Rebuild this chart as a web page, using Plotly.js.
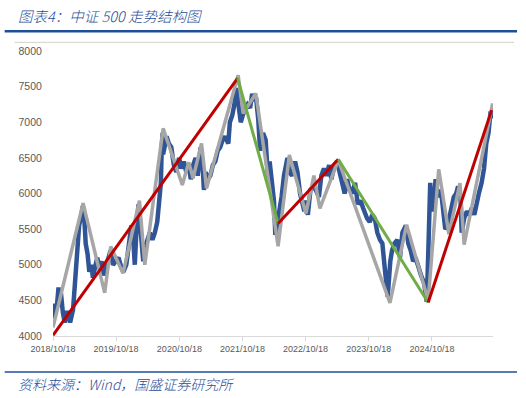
<!DOCTYPE html>
<html>
<head>
<meta charset="utf-8">
<script src="https://cdn.plot.ly/plotly-3.0.1.min.js"></script>
<style>
html,body{margin:0;padding:0;background:#fff;}
#chart{width:526px;height:398px;}
</style>
</head>
<body>
<div id="chart"></div>
<script>
// ---- Data ----
const blueDates = [
'2018-10-18','2018-10-25','2018-11-01','2018-11-09','2018-11-19','2018-11-26','2018-12-03','2018-12-14','2018-12-25',
'2019-01-08','2019-01-25','2019-02-11','2019-02-25','2019-03-08','2019-03-18','2019-04-01','2019-04-08','2019-04-16',
'2019-04-25','2019-05-06','2019-05-16','2019-05-27','2019-06-06','2019-06-17','2019-07-01','2019-07-15','2019-07-26',
'2019-08-06','2019-08-16','2019-09-02','2019-09-16','2019-09-30','2019-10-16','2019-11-01','2019-11-15','2019-11-29',
'2019-12-16','2020-01-02','2020-01-14','2020-01-23','2020-02-03','2020-02-14','2020-02-25','2020-03-09','2020-03-23',
'2020-04-03','2020-04-16','2020-04-30','2020-05-15','2020-05-29','2020-06-12','2020-06-24','2020-07-03','2020-07-08',
'2020-07-13','2020-07-16','2020-07-24','2020-08-05','2020-08-18','2020-09-01','2020-09-16','2020-09-30','2020-10-16',
'2020-10-30','2020-11-13','2020-11-27','2020-12-10','2020-12-23','2021-01-06','2021-01-20','2021-02-01','2021-02-10',
'2021-02-18','2021-03-01','2021-03-09','2021-03-19','2021-04-01','2021-04-15','2021-04-30','2021-05-14','2021-05-28',
'2021-06-11','2021-06-25','2021-07-09','2021-07-28','2021-08-06','2021-08-20','2021-09-01','2021-09-13','2021-09-22',
'2021-10-08','2021-10-20','2021-11-02','2021-11-16','2021-12-01','2021-12-13','2021-12-24','2022-01-04','2022-01-17',
'2022-01-28','2022-02-14','2022-03-01','2022-03-15','2022-03-24','2022-04-08','2022-04-18','2022-04-26','2022-05-09',
'2022-05-20','2022-06-01','2022-06-15','2022-07-05','2022-07-15','2022-08-01','2022-08-18','2022-09-01','2022-09-16',
'2022-09-30','2022-10-11','2022-10-21','2022-10-31','2022-11-15','2022-12-01','2022-12-16','2023-01-03','2023-01-17',
'2023-02-01','2023-02-16','2023-03-03','2023-03-16','2023-04-03','2023-04-18','2023-05-04','2023-05-16','2023-06-01',
'2023-06-15','2023-06-30','2023-07-14','2023-07-31','2023-08-16','2023-09-01','2023-09-15','2023-10-09','2023-10-24',
'2023-11-08','2023-11-22','2023-12-07','2023-12-22','2024-01-05','2024-01-19','2024-02-02','2024-02-05','2024-02-20',
'2024-03-01','2024-03-15','2024-04-01','2024-04-16','2024-04-30','2024-05-20','2024-06-03','2024-06-17','2024-07-01',
'2024-07-15','2024-08-01','2024-08-16','2024-09-02','2024-09-18','2024-09-27','2024-10-08','2024-10-17','2024-11-01',
'2024-11-08','2024-11-22','2024-12-09','2024-12-20','2025-01-03','2025-01-17','2025-02-06','2025-02-21','2025-03-07',
'2025-03-18','2025-04-01','2025-04-08','2025-04-22','2025-05-08','2025-05-22','2025-06-06','2025-06-20','2025-07-03',
'2025-07-16','2025-08-01','2025-08-15','2025-08-28','2025-09-10','2025-09-22','2025-09-30'
];
const blueValues = [
4250,4350,4450,4400,4680,4500,4600,4330,4190,
4350,4190,4370,4950,5350,5550,5700,5820,5700,
5300,5150,4900,5000,4820,4950,5100,4950,5050,
4850,4950,5100,5200,5000,5050,5100,4980,4900,
5000,5300,5550,5450,5000,5550,5850,5450,5050,
5250,5350,5450,5350,5450,5600,5850,6150,6650,
6850,6550,6650,6800,6700,6650,6400,6300,6500,
6350,6450,6300,6400,6200,6400,6500,6250,6500,
6650,6400,6050,6300,6200,6250,6400,6450,6600,
6650,6750,6800,6700,7000,7100,7250,7480,7300,
7000,7100,7200,7250,7200,7400,7300,7350,7050,
6600,6850,6750,6200,6450,6150,5900,5420,5600,
5700,5950,6250,6500,6300,6250,6450,6300,6000,
5850,5750,5900,5700,6050,6100,6050,5950,6250,
6350,6250,6400,6200,6400,6450,6300,6150,6000,
6200,6050,6000,6150,5850,5900,5800,5650,5600,
5700,5650,5450,5350,5300,4950,4650,4550,5050,
5200,5300,5350,5100,5450,5550,5300,5200,5050,
5100,4950,4850,4750,4480,5200,6150,5750,5950,
6200,5950,6050,5850,5500,5550,5750,5950,6000,
6100,5950,5450,5650,5750,5700,5800,5700,5900,
6000,6150,6350,6700,6850,7150,7050
];

const swingDates = [
'2018-10-18','2019-04-10','2019-08-13','2019-09-17','2019-11-27','2020-03-01','2020-04-01','2020-07-16',
'2020-11-04','2020-12-11','2021-01-05','2021-02-23','2021-03-24','2021-09-23','2021-10-22','2022-01-03',
'2022-05-12','2022-07-16','2022-10-20','2022-12-05','2023-01-09','2023-04-25','2024-02-18','2024-05-24',
'2024-09-26','2024-11-26','2025-01-24','2025-03-29','2025-04-22','2025-10-04'
];
const swingValues = [
4120,5865,4605,5257,4880,5900,5000,6914,
6120,6440,6214,6704,6074,7660,7124,7404,
5260,6540,5720,6250,5790,6470,4465,5560,
4500,6340,5430,6144,5281,7264
];

const trendDates = ['2018-10-18','2021-09-20','2022-05-12','2023-04-25','2024-09-26','2025-09-28'];
const trendValues = [4010,7620,5580,6480,4470,7170];

const xTickVals = ['2018-10-18','2019-10-18','2020-10-18','2021-10-18','2022-10-18','2023-10-18','2024-10-18'];
const xTickText = ['2018/10/18','2019/10/18','2020/10/18','2021/10/18','2022/10/18','2023/10/18','2024/10/18'];
const yTickVals = [4000,4500,5000,5500,6000,6500,7000,7500,8000];

// ---- Traces ----
const traces = [
  {x: blueDates, y: blueValues, type: 'scatter', mode: 'lines',
   line: {color: '#2F5597', width: 4.5}, hoverinfo: 'skip'},
  {x: swingDates, y: swingValues, type: 'scatter', mode: 'lines',
   line: {color: '#A6A6A6', width: 3.5}, hoverinfo: 'skip'}
];
for (let i = 0; i < trendDates.length - 1; i++) {
  traces.push({
    x: [trendDates[i], trendDates[i+1]], y: [trendValues[i], trendValues[i+1]],
    type: 'scatter', mode: 'lines',
    line: {color: i % 2 === 0 ? '#C00000' : '#70AD47', width: 3}, hoverinfo: 'skip'
  });
}

// plot area in pixels: x 53.3..493, y 50.7..336.5
const L = 53.3, R = 493, T = 50.7, B = 336.5;
const px = v => (v - L) / (R - L);
const py = v => (B - v) / (B - T);

const layout = {
  width: 526, height: 398,
  margin: {l: L, r: 526 - R, t: T, b: 398 - B, pad: 0},
  paper_bgcolor: '#ffffff', plot_bgcolor: '#ffffff',
  showlegend: false,
  xaxis: {
    type: 'date', range: ['2018-10-18', '2025-10-06'],
    tickmode: 'array', tickvals: xTickVals, ticktext: xTickText,
    showgrid: false, zeroline: false,
    showline: true, linecolor: '#D9D9D9', linewidth: 1,
    ticks: 'outside', ticklen: 4, tickcolor: '#D9D9D9', tickwidth: 1,
    tickfont: {family: 'Liberation Sans, Arial, sans-serif', size: 9, color: '#595959'}
  },
  yaxis: {
    range: [4000, 8000], tickmode: 'array', tickvals: yTickVals,
    showgrid: false, zeroline: false, showline: false,
    ticks: 'outside', ticklen: 8, tickcolor: 'rgba(0,0,0,0)',
    tickfont: {family: 'Liberation Sans, Arial, sans-serif', size: 10.5, color: '#595959'}
  },
  shapes: [
    {type: 'line', xref: 'paper', yref: 'paper', x0: px(5), x1: px(517), y0: py(31), y1: py(31),
     line: {color: '#1F4E99', width: 2.5}},
    {type: 'line', xref: 'paper', yref: 'paper', x0: px(15), x1: px(514), y0: py(42), y1: py(42),
     line: {color: '#D0D0D0', width: 1}},
    {type: 'line', xref: 'paper', yref: 'paper', x0: px(5), x1: px(517), y0: py(372.7), y1: py(372.7),
     line: {color: '#1F4E99', width: 1.5}}
  ],
  annotations: [
    {text: '图表4：中证 500 走势结构图', xref: 'paper', yref: 'paper', x: px(16), y: py(15),
     xanchor: 'left', yanchor: 'middle', showarrow: false,
     font: {family: 'Noto Sans CJK SC, sans-serif', size: 14.5, color: '#1F4E99', style: 'italic', weight: 300}},
    {text: '资料来源：Wind，国盛证券研究所', xref: 'paper', yref: 'paper', x: px(16), y: py(385),
     xanchor: 'left', yanchor: 'middle', showarrow: false,
     font: {family: 'Noto Sans CJK SC, sans-serif', size: 14, color: '#1F4E99', style: 'italic', weight: 300}}
  ]
};

Plotly.newPlot('chart', traces, layout, {displayModeBar: false, staticPlot: true});
</script>
</body>
</html>
